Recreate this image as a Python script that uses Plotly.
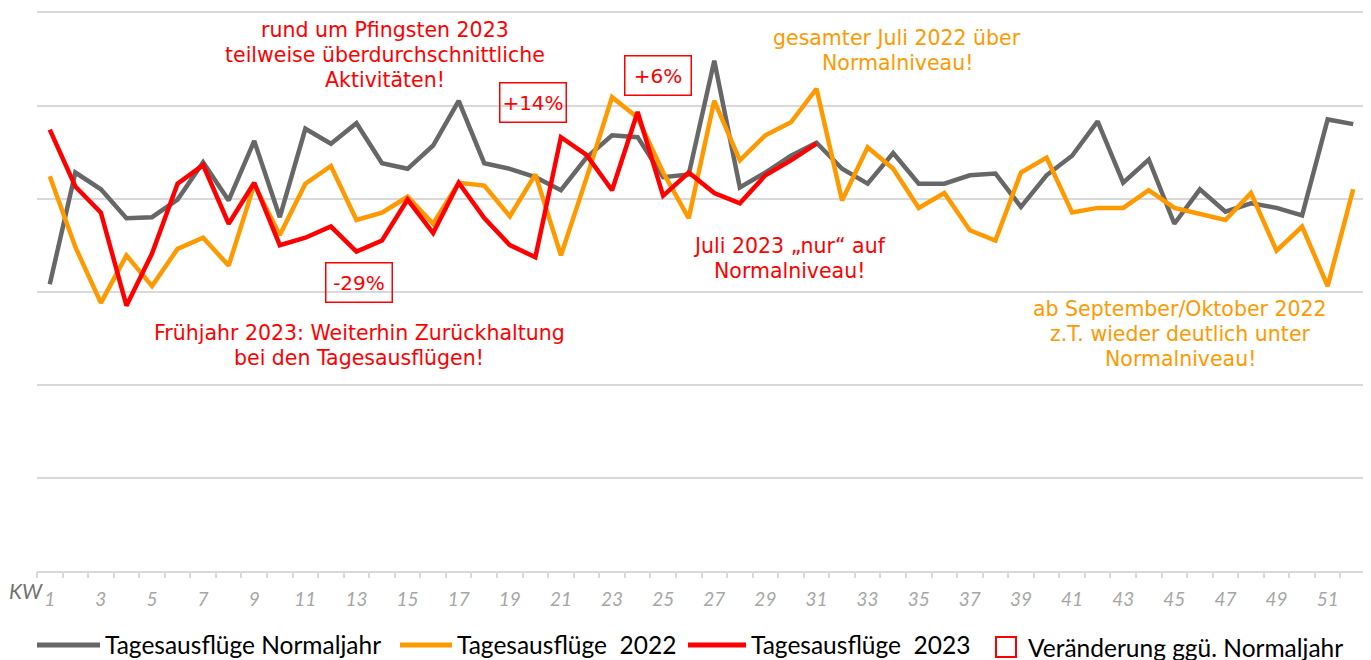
import plotly.graph_objects as go

weeks = list(range(1, 53))
tick_weeks = list(range(1, 53, 2))
tick_labels = [str(w) for w in tick_weeks]

normaljahr = [30.8, 42.8, 41.0, 37.9, 38.0, 39.9, 43.9, 39.8, 46.2, 38.0,
              47.5, 45.9, 48.1, 43.8, 43.2, 45.7, 50.5, 43.8, 43.2, 42.3,
              40.9, 44.4, 46.8, 46.6, 42.3, 42.6, 54.8, 41.2, 42.8, 44.6,
              46.0, 43.2, 41.6, 44.9, 41.6, 41.6, 42.5, 42.7, 39.1, 42.5,
              44.6, 48.3, 41.7, 44.2, 37.3, 41.0, 38.6, 39.5, 39.0, 38.2,
              48.5, 48.0]
jahr2022 = [42.4, 34.8, 28.8, 33.9, 30.6, 34.6, 35.8, 32.8, 41.5, 36.1,
            41.6, 43.5, 37.7, 38.5, 40.2, 37.3, 41.7, 41.4, 38.1, 42.6,
            33.9, 42.2, 50.9, 48.7, 42.8, 37.9, 50.5, 44.1, 46.8, 48.2,
            51.8, 39.8, 45.5, 43.2, 39.0, 40.6, 36.6, 35.5, 42.8, 44.4,
            38.5, 39.0, 39.0, 40.9, 39.0, 38.4, 37.7, 40.6, 34.4, 37.0,
            30.6, 41.0]
weeks2023 = list(range(1, 32))
jahr2023 = [47.4, 41.3, 38.5, 28.5, 34.1, 41.6, 43.6, 37.3, 41.7, 35.0,
            35.8, 37.0, 34.3, 35.5, 39.9, 36.3, 41.7, 37.9, 35.0, 33.7,
            46.6, 44.7, 40.9, 49.3, 40.3, 42.8, 40.6, 39.5, 42.5, 44.1,
            45.9]

GRAY = "#676767"
ORANGE = "#FF9900"
RED = "#FF0000"
FONT = "DejaVu Sans"
LFONT = "Lato"

# page body has an 8px margin; figure is sized so plot area lands at x 37..1366, y 12..571
OFF = 8
PL, PR, PT, PB = 37, 1366, 12, 571
W, H = 1371 - OFF, 660 - OFF

fig = go.Figure()
fig.add_trace(go.Scatter(x=weeks, y=normaljahr, mode="lines", name="Tagesausflüge Normaljahr",
                         line=dict(color=GRAY, width=4.5), showlegend=False))
fig.add_trace(go.Scatter(x=weeks, y=jahr2022, mode="lines", name="Tagesausflüge  2022",
                         line=dict(color=ORANGE, width=4.5), showlegend=False))
fig.add_trace(go.Scatter(x=weeks2023, y=jahr2023, mode="lines", name="Tagesausflüge  2023",
                         line=dict(color=RED, width=4.5), showlegend=False))
fig.add_trace(go.Scatter(x=[1], y=[None], xaxis="x2", showlegend=False, hoverinfo="skip"))

YTOP = 60.15
top_px = PB - (PB - PT) * YTOP / 60.0
fig.update_layout(
    width=W, height=H,
    margin=dict(l=PL - OFF, r=1371 - PR, t=top_px - OFF, b=660 - PB, autoexpand=False),
    plot_bgcolor="white", paper_bgcolor="white",
    font=dict(family=FONT),
    xaxis=dict(range=[0.5, 52.5], tickvals=tick_weeks, ticktext=tick_labels,
               showgrid=False, zeroline=False, showline=True, linecolor="#d9d9d9", linewidth=2,
               ticks="outside", ticklen=10, tickcolor="rgba(0,0,0,0)",
               tickfont=dict(family=LFONT, size=19, color="#a6a6a6", style="italic")),
    xaxis2=dict(range=[0.5, 52.5], overlaying="x", tickvals=[w + 0.5 for w in range(0, 53)],
                showticklabels=False, showgrid=False, zeroline=False, showline=False,
                ticks="outside", ticklen=6, tickcolor="#d9d9d9", tickwidth=1.5,
                side="bottom", anchor="y"),
    yaxis=dict(range=[0, YTOP], tickvals=[10, 20, 30, 40, 50, 60], showticklabels=False, showgrid=True,
               gridcolor="#d9d9d9", gridwidth=2, zeroline=False, showline=False, ticks=""),
)

ph = PB - top_px
pw = PR - PL
def py(p):
    return (PB - p) / ph
def px(p):
    return (p - PL) / pw

annos = []
def block(x, ys, lines, color, size=20.5):
    for y, line in zip(ys, lines):
        annos.append(dict(x=px(x), y=py(y), xref="paper", yref="paper", text=line, showarrow=False,
                          xanchor="center", yanchor="middle",
                          font=dict(family=FONT, size=size, color=color)))

block(385, [30, 55, 80], ["rund um Pfingsten 2023", "teilweise überdurchschnittliche", "Aktivitäten!"], RED)
block(897, [38, 63], ["gesamter Juli 2022 über", "Normalniveau!"], ORANGE)
block(789, [246, 271], ["Juli 2023 „nur“ auf", "Normalniveau!"], RED)
block(359, [333, 358], ["Frühjahr 2023: Weiterhin Zurückhaltung", "bei den Tagesausflügen!"], RED)
block(1180, [309, 334, 359], ["ab September/Oktober 2022", "z.T. wieder deutlich unter", "Normalniveau!"], ORANGE)

for x, p, t in [(532.5, 102, "+14%"), (657.5, 75.5, "+6%"), (359, 282.5, "-29%")]:
    annos.append(dict(x=px(x), y=py(p), xref="paper", yref="paper", text=t, showarrow=False,
                      xanchor="center", yanchor="middle", width=62, height=35, borderpad=1.5,
                      bordercolor=RED, borderwidth=1.5,
                      font=dict(family=FONT, size=20, color=RED)))

annos.append(dict(x=px(26), y=py(591), xref="paper", yref="paper", text="KW",
                  showarrow=False, xanchor="center", yanchor="middle",
                  font=dict(family=LFONT, size=21, color="#767171", style="italic")))

legend_y = py(645)
items = [(37, 100, GRAY, "Tagesausflüge Normaljahr"),
         (400, 452, ORANGE, "Tagesausflüge  2022"),
         (688, 746, RED, "Tagesausflüge  2023")]
shapes = []
for x0, x1, c, label in items:
    shapes.append(dict(type="line", xref="paper", yref="paper",
                       x0=px(x0), x1=px(x1), y0=legend_y, y1=legend_y,
                       line=dict(color=c, width=5)))
    annos.append(dict(x=px(x1 + 3), y=legend_y, xref="paper", yref="paper", text=label,
                      showarrow=False, xanchor="left", yanchor="middle",
                      font=dict(family=LFONT, size=24.5, color="black")))
shapes.append(dict(type="rect", xref="paper", yref="paper",
                   x0=px(996), x1=px(1016), y0=py(657), y1=py(637),
                   line=dict(color=RED, width=2)))
annos.append(dict(x=px(1026), y=py(648), xref="paper", yref="paper",
                  text="Veränderung ggü. Normaljahr", showarrow=False, xanchor="left", yanchor="middle",
                  font=dict(family=LFONT, size=24.5, color="black")))

fig.update_layout(annotations=annos, shapes=shapes)
fig.write_html("out.html")
